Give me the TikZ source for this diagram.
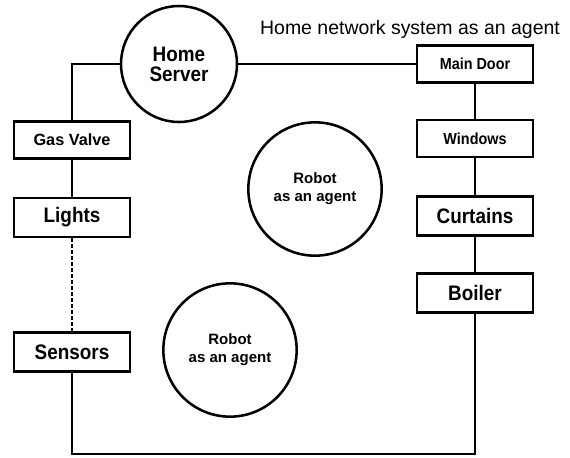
\documentclass[tikz,border=0pt]{standalone}
\usepackage{fontspec}
\setmainfont{Liberation Sans}
\newfontfamily\narrowsans[FakeStretch=0.9]{Liberation Sans}
\begin{document}
\begin{tikzpicture}[x=0.75pt,y=-0.75pt,
  line width=1.9pt,
  devbox/.style={draw,rectangle,minimum width=87pt,inner sep=0pt,align=center},
  smallbox/.style={devbox,minimum height=28pt,font=\narrowsans\bfseries\fontsize{12}{13}\selectfont},
  bigbox/.style={devbox,minimum height=29.5pt,font=\narrowsans\bfseries\fontsize{15.75}{16}\selectfont},
  hub/.style={draw,circle,minimum size=87pt,inner sep=0pt,align=center,
    font=\narrowsans\bfseries\fontsize{15.75}{15}\selectfont},
  agent/.style={draw,circle,minimum size=100pt,inner sep=0pt,align=center,
    font=\bfseries\fontsize{11.25}{13.5}\selectfont},
  linkdash/.style={dash pattern=on 3pt off 1.5pt}]
\useasboundingbox (0,0) rectangle (570,457);

% server and agents
\node[hub] (hs) at (179,64) {Home\\Server};
\node[agent] (r1) at (315,189) {Robot\\as an agent};
\node[agent] (r2) at (230,350) {Robot\\as an agent};

% left column of devices
\node[smallbox,font=\bfseries\fontsize{12.2}{13}\selectfont] (gas) at (72,140) {Gas Valve};
\node[bigbox] (lights) at (72,217.5) {Lights};
\node[bigbox] (sens) at (72,352) {Sensors};

% right column of devices
\node[smallbox] (door) at (475,64) {Main Door};
\node[smallbox] (win) at (475,138.5) {Windows};
\node[bigbox] (curt) at (475,216) {Curtains};
\node[bigbox] (boil) at (475,293) {Boiler};

% caption
\node[anchor=base,inner sep=0pt,font=\fontsize{14.6}{16}\selectfont] (cap) at (410,34)
  {Home network system as an agent};

% network wiring
\coordinate (bot) at (0,454);
\draw (hs.west) -| (gas.north);
\draw (gas) -- (lights);
\draw[linkdash] (lights) -- (sens);
\draw (sens.south) -- (sens.south |- bot) -- (boil.south |- bot) -- (boil.south);
\draw (hs.east) -- (door.west);
\draw (door) -- (win);
\draw (win) -- (curt);
\draw (curt) -- (boil);
\end{tikzpicture}
\end{document}
